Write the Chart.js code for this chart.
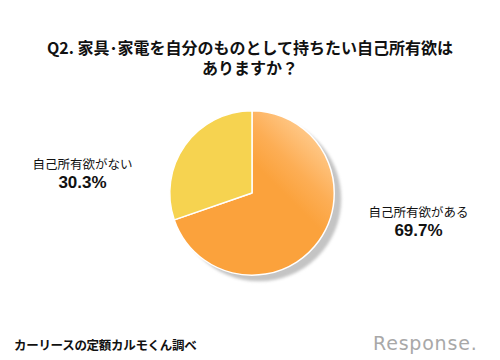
<!DOCTYPE html>
<html><head><meta charset="utf-8">
<script src="https://cdn.jsdelivr.net/npm/chart.js@4/dist/chart.umd.min.js"></script>
<style>
html,body{margin:0;padding:0;background:#fff;}
#wrap{position:relative;width:500px;height:360px;overflow:hidden;font-family:"Noto Sans CJK JP","Noto Sans",sans-serif;}
.t{position:absolute;left:0;width:500px;text-align:center;font-weight:bold;font-size:16px;color:#111;line-height:20px;}
#pie{position:absolute;left:152px;top:100px;width:200px;height:200px;}
.lab{position:absolute;text-align:center;color:#111;}
.lab .a{font-size:12.5px;line-height:16px;}
.lab .b{font-size:17px;font-weight:bold;line-height:21px;font-family:"Liberation Sans","Noto Sans CJK JP",sans-serif;}
#foot{position:absolute;left:14px;top:335px;font-weight:bold;font-size:12.5px;color:#111;letter-spacing:-0.3px;}
#logo{position:absolute;left:373px;top:332px;font-family:"DejaVu Sans",sans-serif;font-size:19px;color:#a8a8a8;letter-spacing:0.8px;}
</style></head>
<body><div id="wrap">
<div class="t" style="top:37px">Q2. 家具･家電を自分のものとして持ちたい自己所有欲は</div>
<div class="t" style="top:57px">ありますか？</div>
<div id="pie"><canvas id="c"></canvas></div>
<div class="lab" style="left:30px;top:156px;width:105px"><div class="a" id="l1"></div><div class="b" id="v1"></div></div>
<div class="lab" style="left:366px;top:204px;width:105px"><div class="a" id="l0"></div><div class="b" id="v0"></div></div>
<div id="foot">カーリースの定額カルモくん調べ</div>
<div id="logo">Response.</div>
</div>
<script>
const categories = ["自己所有欲がある", "自己所有欲がない"];
const values = [69.7, 30.3];
const baseColors = ["#FBA23C", "#F6D350"];

categories.forEach((c,i)=>{
  document.getElementById('l'+i).textContent = c;
  document.getElementById('v'+i).textContent = values[i].toFixed(1) + '%';
});

const shadowPlugin = {
  id: 'shadow',
  beforeDatasetsDraw(chart){
    const meta = chart.getDatasetMeta(0);
    if(!meta.data.length) return;
    const a = meta.data[0];
    const ctx = chart.ctx;
    ctx.save();
    ctx.filter = 'blur(1.5px)';
    ctx.fillStyle = '#c4c4c4';
    ctx.beginPath();
    ctx.arc(a.x + 7, a.y + 6, a.outerRadius, 0, Math.PI*2);
    ctx.fill();
    ctx.restore();
  }
};

function bg(context){
  const i = context.dataIndex;
  const chart = context.chart;
  const ca = chart.chartArea;
  if(i !== 0 || !ca) return baseColors[i];
  const cx = (ca.left+ca.right)/2, cy = (ca.top+ca.bottom)/2;
  const r = Math.min(ca.right-ca.left, ca.bottom-ca.top)/2;
  const g = chart.ctx.createLinearGradient(cx + r*0.75, cy - r*0.75, cx, cy);
  g.addColorStop(0, '#FFCB8E');
  g.addColorStop(0.45, '#FDAE55');
  g.addColorStop(0.75, baseColors[0]);
  g.addColorStop(1, baseColors[0]);
  return g;
}

new Chart(document.getElementById('c'), {
  type: 'pie',
  data: { labels: categories, datasets: [{ data: values, backgroundColor: bg, borderColor: '#ffffff', borderWidth: 1.5 }] },
  options: {
    responsive: true, maintainAspectRatio: false, animation: false,
    layout: { padding: { left: 17, right: 17, top: 10, bottom: 24 } },
    plugins: { legend: { display: false }, tooltip: { enabled: false } }
  },
  plugins: [shadowPlugin]
});
</script>
</body></html>
